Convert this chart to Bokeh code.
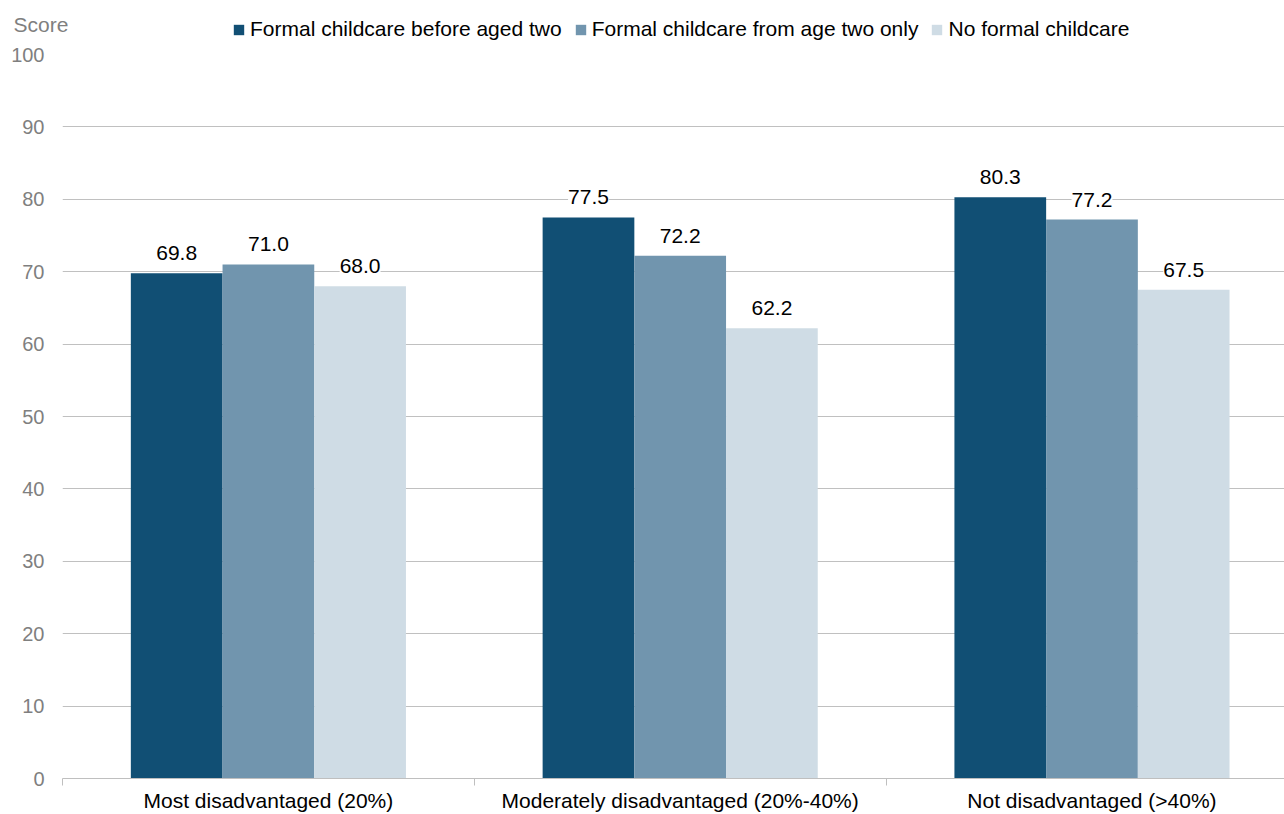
from bokeh.plotting import figure
from bokeh.layouts import column
from bokeh.models import (ColumnDataSource, Range1d, FixedTicker, LabelSet,
                          Legend, LegendItem, Label)
from bokeh.core.properties import value
from bokeh.transform import dodge
from bokeh.embed import file_html
from bokeh.resources import INLINE

# Chart data
categories = ["Most disadvantaged (20%)",
              "Moderately disadvantaged (20%-40%)",
              "Not disadvantaged (>40%)"]
series_names = ["Formal childcare before aged two",
                "Formal childcare from age two only",
                "No formal childcare"]
before_two = [69.8, 77.5, 80.3]
from_two_only = [71.0, 72.2, 77.2]
no_childcare = [68.0, 62.2, 67.5]
y_ticks = list(range(0, 101, 10))

colors = ["#114f74", "#7195ae", "#cfdce5"]
FONT = "Liberation Sans"
BAR_W = 0.2227
offsets = [-BAR_W, 0.0, BAR_W]

centers = [i + 0.5 for i in range(len(categories))]
series = [before_two, from_two_only, no_childcare]
data = {"x": centers}
for k, vals in enumerate(series):
    data[f"s{k}"] = vals
    data[f"t{k}"] = [f"{v:.1f}" for v in vals]
src = ColumnDataSource(data)

# ---- header strip: unit caption and legend ----
HEAD_H = 41
head = figure(width=1284, height=HEAD_H, output_backend="svg",
              toolbar_location=None, x_range=Range1d(0, 1284),
              y_range=Range1d(0, HEAD_H), x_axis_type=None, y_axis_type=None,
              min_border=0)
head.frame_align = False
head.outline_line_color = None
head.xgrid.visible = False
head.ygrid.visible = False

# zero-height swatch renderers, used only for the legend keys
head_renderers = [head.vbar(x=[0], top=[0], width=0, fill_color=c, line_color=None)
                  for c in colors]
legend = Legend(items=[LegendItem(label=n, renderers=[r])
                       for n, r in zip(series_names, head_renderers)],
                orientation="horizontal", location=(232, 0),
                glyph_width=13, glyph_height=13, label_standoff=5, spacing=12,
                padding=0, margin=0, border_line_color=None,
                background_fill_alpha=0, label_text_font=FONT,
                label_text_font_size="21px", label_text_color="#000000")
head.add_layout(legend)
head.add_layout(Label(x=13, y=17, text="Score", text_font=FONT,
                      text_font_size="21px", text_color="#7f7f7f",
                      text_baseline="alphabetic", text_align="left"))

# ---- main bar chart ----
p = figure(frame_width=1222, frame_height=724, output_backend="svg",
           toolbar_location=None,
           x_range=Range1d(0, 2.9675), y_range=Range1d(0, 100),
           min_border_left=62, min_border_right=0,
           min_border_top=54 - HEAD_H, min_border_bottom=0)
p.frame_align = False
p.outline_line_color = None
p.background_fill_color = "white"
p.border_fill_color = "white"

for k in range(3):
    p.vbar(x=dodge("x", offsets[k]), top=f"s{k}", width=BAR_W, bottom=0,
           source=src, fill_color=colors[k], line_color=None)
    labels = LabelSet(x=dodge("x", offsets[k]), y=f"s{k}", text=f"t{k}",
                      source=src, y_offset=13, text_align="center",
                      text_baseline="bottom", text_font=value(FONT),
                      text_font_size=value("21px"), text_color="#000000",
                      background_fill_color="white")
    p.add_layout(labels)

# Axes
p.xaxis.ticker = FixedTicker(ticks=centers, minor_ticks=[0, 1, 2, 3])
p.xaxis.major_label_overrides = {c: name for c, name in zip(centers, categories)}
p.xaxis.major_tick_line_color = None
p.xaxis.major_tick_out = 0
p.xaxis.minor_tick_line_color = "#bfbfbf"
p.xaxis.minor_tick_out = 7
p.xaxis.minor_tick_in = 0
p.xaxis.axis_line_color = "#bfbfbf"
p.xaxis.major_label_standoff = 3
p.xaxis.major_label_text_font = FONT
p.xaxis.major_label_text_font_size = "21px"
p.xaxis.major_label_text_color = "#000000"

p.yaxis.ticker = FixedTicker(ticks=y_ticks)
p.yaxis.axis_line_color = None
p.yaxis.major_tick_line_color = None
p.yaxis.minor_tick_line_color = None
p.yaxis.major_tick_out = 0
p.yaxis.major_tick_in = 0
p.yaxis.major_label_standoff = 18
p.yaxis.major_label_text_font = FONT
p.yaxis.major_label_text_font_size = "20px"
p.yaxis.major_label_text_color = "#7f7f7f"

p.xgrid.grid_line_color = None
p.ygrid.grid_line_color = "#c0c0c0"
p.ygrid.grid_line_width = 1

layout = column(head, p, spacing=0)
open("out.html", "w").write(file_html(layout, INLINE))
